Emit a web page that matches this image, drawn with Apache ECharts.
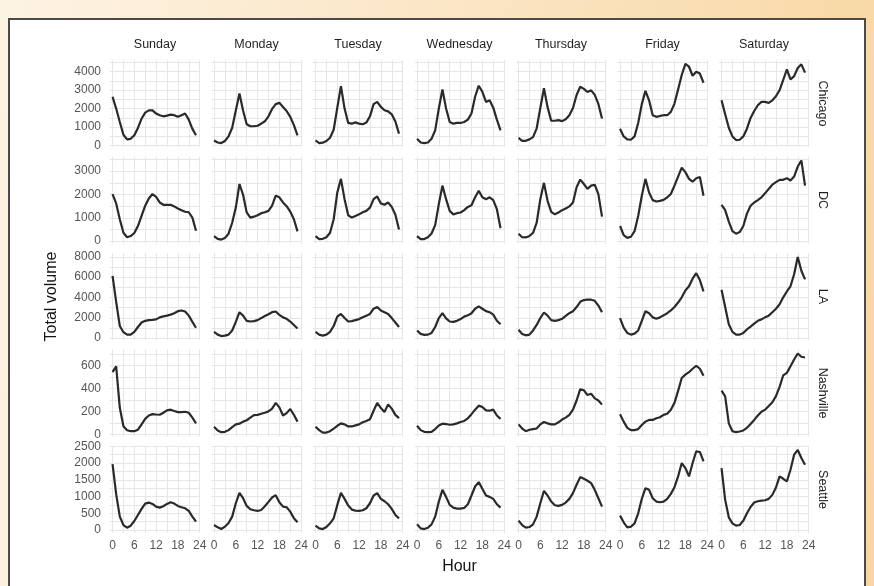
<!DOCTYPE html>
<html>
<head>
<meta charset="utf-8">
<script src="https://cdn.jsdelivr.net/npm/echarts@6/dist/echarts.min.js"></script>
<style>
  html, body { margin: 0; padding: 0; width: 874px; height: 586px; overflow: hidden; }
  body { position: relative; background: linear-gradient(100deg, #fdf3e3 0%, #fbe6c6 45%, #f8d6a0 100%); }
  #frame { position: absolute; left: 8px; top: 18px; width: 858px; height: 590px; background: #fff;
           border: 2px solid #4a4a4a; box-sizing: border-box; }
  #chart { position: absolute; left: 0; top: 0; width: 874px; height: 586px; }
</style>
</head>
<body>
<div id="frame"></div>
<div id="chart"></div>
<script>
// Facet labels
const days = ['Sunday', 'Monday', 'Tuesday', 'Wednesday', 'Thursday', 'Friday', 'Saturday'];
const cities = ['Chicago', 'DC', 'LA', 'Nashville', 'Seattle'];
const hours = [0, 1, 2, 3, 4, 5, 6, 7, 8, 9, 10, 11, 12, 13, 14, 15, 16, 17, 18, 19, 20, 21, 22, 23];

// Tick labels
const hourTicks = [0, 6, 12, 18, 24];
const hourMinor = [3, 9, 15, 21];
const chicagoTicks = [0, 1000, 2000, 3000, 4000];
const dcTicks = [0, 1000, 2000, 3000];
const laTicks = [0, 2000, 4000, 6000, 8000];
const nashvilleTicks = [0, 200, 400, 600];
const seattleTicks = [0, 500, 1000, 1500, 2000, 2500];

// Hourly total volume, one row per weekday (Sunday .. Saturday)
const chicagoVolume = [
  [2640, 2000, 1270, 580, 330, 360, 550, 950, 1450, 1780, 1900, 1900, 1730, 1640, 1580, 1620, 1670, 1640, 1550, 1640, 1730, 1400, 900, 550],
  [270, 160, 130, 240, 490, 960, 1900, 2820, 1900, 1150, 1040, 1040, 1070, 1180, 1310, 1580, 1980, 2240, 2310, 2090, 1870, 1550, 1100, 550],
  [270, 130, 150, 240, 420, 850, 2050, 3220, 2000, 1220, 1180, 1250, 1180, 1150, 1240, 1580, 2240, 2360, 2090, 1910, 1850, 1690, 1300, 640],
  [360, 160, 130, 160, 360, 820, 2000, 3040, 2000, 1270, 1180, 1220, 1220, 1270, 1400, 1730, 2640, 3240, 2910, 2360, 2450, 2050, 1400, 820],
  [410, 250, 250, 330, 450, 930, 2030, 3100, 2080, 1340, 1340, 1370, 1320, 1420, 1640, 2030, 2740, 3180, 3070, 2900, 2990, 2740, 2250, 1460],
  [910, 490, 330, 310, 490, 1220, 2240, 2960, 2450, 1640, 1550, 1600, 1640, 1640, 1820, 2270, 3040, 3820, 4420, 4270, 3780, 4000, 3900, 3400],
  [2450, 1690, 960, 490, 290, 310, 490, 910, 1490, 1870, 2180, 2360, 2360, 2310, 2450, 2670, 3000, 3550, 4130, 3580, 3760, 4200, 4400, 3950]
];
const dcVolume = [
  [2020, 1620, 940, 360, 170, 220, 350, 650, 1080, 1520, 1830, 2020, 1900, 1660, 1560, 1560, 1560, 1490, 1400, 1330, 1260, 1240, 1010, 450],
  [220, 100, 70, 140, 320, 790, 1440, 2450, 1990, 1230, 1010, 1050, 1110, 1200, 1240, 1300, 1520, 1950, 1880, 1660, 1500, 1270, 940, 420],
  [220, 90, 100, 170, 360, 940, 2090, 2670, 1800, 1110, 1010, 1080, 1150, 1240, 1300, 1440, 1800, 1920, 1620, 1560, 1660, 1470, 1130, 500],
  [220, 90, 90, 170, 330, 690, 1590, 2380, 1800, 1300, 1150, 1200, 1230, 1330, 1470, 1540, 1880, 2160, 1880, 1800, 1880, 1760, 1370, 560],
  [320, 170, 160, 220, 360, 790, 1800, 2500, 1730, 1260, 1150, 1230, 1330, 1400, 1490, 1660, 2310, 2640, 2450, 2240, 2380, 2420, 2020, 1050],
  [650, 260, 140, 190, 430, 1080, 1950, 2670, 2090, 1760, 1700, 1730, 1770, 1880, 2020, 2380, 2770, 3150, 2960, 2670, 2550, 2700, 2750, 1950],
  [1560, 1330, 840, 430, 320, 390, 650, 1180, 1520, 1660, 1760, 1880, 2050, 2240, 2420, 2530, 2630, 2630, 2700, 2600, 2770, 3200, 3460, 2380]
];
const laVolume = [
  [6120, 3570, 1190, 580, 340, 340, 610, 1090, 1530, 1700, 1770, 1800, 1840, 2040, 2140, 2210, 2310, 2450, 2650, 2720, 2620, 2210, 1600, 1020],
  [610, 340, 200, 240, 340, 750, 1600, 2550, 2210, 1700, 1630, 1670, 1770, 1970, 2180, 2350, 2550, 2620, 2280, 2040, 1900, 1630, 1290, 950],
  [610, 340, 240, 340, 610, 1190, 2110, 2380, 1970, 1630, 1670, 1770, 1870, 2040, 2210, 2380, 2890, 3060, 2720, 2550, 2380, 1970, 1530, 1090],
  [750, 410, 310, 340, 510, 1090, 1970, 2450, 1940, 1630, 1600, 1700, 1870, 2110, 2240, 2450, 2890, 3130, 2890, 2650, 2550, 2310, 1700, 1360],
  [820, 410, 270, 340, 750, 1290, 1970, 2520, 2210, 1770, 1700, 1770, 1900, 2180, 2450, 2650, 3060, 3570, 3740, 3780, 3780, 3670, 3200, 2550],
  [1970, 1020, 510, 340, 440, 750, 1700, 2650, 2450, 2040, 1900, 2040, 2240, 2450, 2720, 3060, 3500, 4010, 4690, 5100, 5850, 6390, 5710, 4590],
  [4760, 3060, 1360, 610, 340, 340, 510, 850, 1120, 1430, 1700, 1840, 2040, 2210, 2550, 2890, 3330, 4010, 4590, 5100, 6290, 7990, 6630, 5780]
];
const nashvilleVolume = [
  [540, 590, 230, 70, 35, 27, 27, 40, 86, 134, 163, 175, 172, 170, 187, 208, 214, 202, 193, 193, 196, 187, 145, 95],
  [65, 33, 18, 21, 36, 62, 86, 92, 110, 122, 145, 166, 169, 178, 187, 199, 223, 273, 234, 163, 184, 220, 169, 110],
  [65, 36, 15, 15, 27, 50, 74, 95, 86, 68, 68, 77, 86, 104, 116, 131, 205, 273, 228, 193, 260, 223, 169, 140],
  [74, 36, 21, 18, 21, 45, 77, 92, 89, 83, 86, 95, 107, 116, 139, 175, 214, 249, 237, 208, 205, 214, 163, 134],
  [86, 50, 27, 39, 45, 50, 86, 107, 95, 86, 86, 104, 128, 145, 169, 214, 294, 392, 383, 341, 353, 312, 294, 258],
  [175, 110, 56, 36, 36, 45, 80, 110, 125, 125, 139, 148, 169, 178, 214, 273, 377, 490, 519, 540, 570, 596, 570, 510],
  [380, 330, 95, 27, 18, 24, 33, 56, 89, 125, 163, 196, 214, 246, 279, 332, 412, 513, 534, 591, 650, 703, 674, 668]
];
const seattleVolume = [
  [1970, 1070, 400, 150, 70, 130, 270, 450, 630, 790, 820, 780, 700, 670, 710, 780, 830, 790, 720, 680, 650, 570, 400, 250],
  [150, 80, 30, 100, 210, 400, 800, 1110, 950, 720, 620, 590, 570, 600, 710, 840, 970, 1040, 830, 700, 680, 550, 350, 230],
  [130, 50, 30, 90, 200, 350, 750, 1110, 930, 730, 610, 580, 570, 590, 650, 800, 1030, 1100, 930, 860, 770, 630, 450, 350],
  [170, 50, 30, 70, 170, 400, 850, 1200, 990, 750, 670, 640, 640, 660, 770, 1030, 1300, 1430, 1230, 1030, 990, 930, 770, 670],
  [280, 150, 70, 90, 170, 400, 800, 1170, 1030, 850, 740, 720, 750, 820, 930, 1100, 1350, 1580, 1530, 1470, 1400, 1200, 950, 700],
  [430, 230, 80, 100, 200, 500, 930, 1250, 1200, 950, 850, 830, 850, 930, 1080, 1280, 1600, 2000, 1850, 1600, 2000, 2350, 2330, 2050],
  [1850, 900, 380, 200, 130, 150, 280, 500, 690, 820, 860, 880, 890, 930, 1050, 1270, 1600, 1530, 1450, 1800, 2250, 2390, 2150, 1950]
];

const rows = [
  { volume: chicagoVolume, ticks: chicagoTicks },
  { volume: dcVolume, ticks: dcTicks },
  { volume: laVolume, ticks: laTicks },
  { volume: nashvilleVolume, ticks: nashvilleTicks },
  { volume: seattleVolume, ticks: seattleTicks }
];

// Panel geometry (pixels)
const PANEL_LEFT = 110, COL_STEP = 101.5, PANEL_W = 90;
const PANEL_TOP = 60, ROW_STEP = 96.5, PANEL_H = 87;
const FONT = '"Liberation Sans", Arial, Helvetica, sans-serif';
const GRID_COLOR = '#e6e6e6';
const TICK_TEXT = '#555555';

// Shared y range per row, padded by 5% like a free_y facet scale
function rowRange(volume) {
  let lo = Infinity, hi = -Infinity;
  volume.forEach(d => d.forEach(v => { lo = Math.min(lo, v); hi = Math.max(hi, v); }));
  const pad = (hi - lo) * 0.05;
  return [lo - pad, hi + pad];
}
// minor break values sit halfway between major ones
function minorBetween(ticks, hi) {
  const step = ticks[1] - ticks[0];
  const out = [];
  for (let v = ticks[0] + step / 2; v <= hi; v += step) out.push(v);
  return out;
}
const plain = v => String(Math.round(v));

const grids = [], xAxes = [], yAxes = [], series = [], graphics = [];

rows.forEach((row, r) => {
  const [lo, hi] = rowRange(row.volume);
  const yGrid = row.ticks.concat(minorBetween(row.ticks, hi)).filter(v => v >= lo && v <= hi);
  days.forEach((day, c) => {
    const idx = grids.length;
    grids.push({
      left: PANEL_LEFT + c * COL_STEP,
      top: PANEL_TOP + r * ROW_STEP,
      width: PANEL_W,
      height: PANEL_H,
      containLabel: false
    });
    xAxes.push({
      type: 'value', gridIndex: idx, min: -0.7, max: 24.1,
      axisLine: { show: false },
      axisTick: { show: false, customValues: hourTicks.concat(hourMinor) },
      splitLine: { show: true, lineStyle: { color: GRID_COLOR, width: 1 } },
      axisLabel: {
        show: r === rows.length - 1, customValues: hourTicks, margin: 7, formatter: plain,
        color: TICK_TEXT, fontSize: 12, fontFamily: FONT
      }
    });
    yAxes.push({
      type: 'value', gridIndex: idx, min: lo, max: hi,
      axisLine: { show: false },
      axisTick: { show: false, customValues: yGrid },
      splitLine: { show: true, lineStyle: { color: GRID_COLOR, width: 1 } },
      axisLabel: {
        show: c === 0, customValues: row.ticks, margin: 9, formatter: plain,
        color: TICK_TEXT, fontSize: 12, fontFamily: FONT
      }
    });
    series.push({
      type: 'line', xAxisIndex: idx, yAxisIndex: idx,
      showSymbol: false, silent: true, animation: false,
      lineStyle: { color: '#2a2a2a', width: 2.2 },
      data: hours.map((h, i) => [h, row.volume[c][i]])
    });
  });
});

// Strip labels: weekdays on top, cities on the right
days.forEach((day, c) => {
  graphics.push({
    type: 'text', x: PANEL_LEFT + c * COL_STEP + PANEL_W / 2, y: 45,
    style: { text: day, fill: '#1f1f1f', font: '12.5px ' + FONT, align: 'center', verticalAlign: 'middle' }
  });
});
cities.forEach((city, r) => {
  graphics.push({
    type: 'text', x: 822, y: PANEL_TOP + r * ROW_STEP + PANEL_H / 2, rotation: -Math.PI / 2,
    style: { text: city, fill: '#1f1f1f', font: '12.5px ' + FONT, align: 'center', verticalAlign: 'middle' }
  });
});
// Axis titles
graphics.push({
  type: 'text', x: 52, y: PANEL_TOP + (4 * ROW_STEP + PANEL_H) / 2, rotation: Math.PI / 2,
  style: { text: 'Total volume', fill: '#141414', font: '16px ' + FONT, align: 'center', verticalAlign: 'middle' }
});
graphics.push({
  type: 'text', x: PANEL_LEFT + (6 * COL_STEP + PANEL_W) / 2, y: 567,
  style: { text: 'Hour', fill: '#141414', font: '16px ' + FONT, align: 'center', verticalAlign: 'middle' }
});

const chart = echarts.init(document.getElementById('chart'), null, { renderer: 'canvas' });
chart.setOption({
  animation: false,
  backgroundColor: 'transparent',
  grid: grids,
  xAxis: xAxes,
  yAxis: yAxes,
  series: series,
  graphic: graphics
});
</script>
</body>
</html>
